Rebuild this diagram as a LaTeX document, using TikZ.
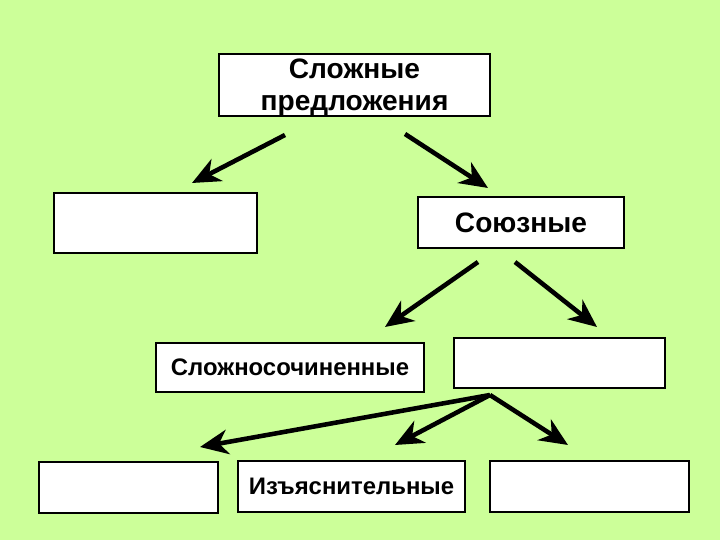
\documentclass[tikz,border=0pt]{standalone}
\usepackage{fontspec}
\setmainfont{Liberation Sans}
\usepackage{tikz}
\usetikzlibrary{arrows.meta}
\definecolor{bgGreen}{HTML}{CCFF99}

\begin{document}
\begin{tikzpicture}[x=0.02cm,y=-0.02cm]
\fill[bgGreen] (0,0) rectangle (720,540);
\useasboundingbox (0,0) rectangle (720,540);
\begin{scope}[every node/.style={rectangle,draw,line width=1.2pt,fill=white,inner sep=0pt,align=center,font=\fontsize{13.6}{17.5}\selectfont\bfseries}]
\node[minimum width=5.42cm,minimum height=1.24cm,text depth=0pt,font=\fontsize{16}{18}\selectfont\bfseries] (top) at (354.5,85) {Сложные\\предложения};
\node[minimum width=4.06cm,minimum height=1.20cm] (left) at (155.5,223) {};
\node[minimum width=4.12cm,minimum height=1.02cm,font=\fontsize{16}{18}\selectfont\bfseries] (soyuz) at (521,222.5) {Союзные};
\node[minimum width=5.36cm,minimum height=0.98cm] (soch) at (290,367.5) {Сложносочиненные};
\node[minimum width=4.22cm,minimum height=1.00cm] (podch) at (559.5,363) {};
\node[minimum width=3.58cm,minimum height=1.02cm] (bl) at (128.5,487.5) {};
\node[minimum width=4.54cm,minimum height=1.02cm] (izyas) at (351.5,486.5) {Изъяснительные};
\node[minimum width=3.98cm,minimum height=1.02cm] (br) at (589.5,486.5) {};
\end{scope}

\coordinate (t1) at (285,135);
\coordinate (t2) at (405,134);
\coordinate (s1) at (478,262);
\coordinate (s2) at (515,262);
\coordinate (p0) at (490,395);
\coordinate (a1) at (192,183);
\coordinate (a2) at (488,188);
\coordinate (a3) at (385,327);
\coordinate (a4) at (597,327);
\coordinate (a5) at (200,447);
\coordinate (a6) at (395,445);
\coordinate (a7) at (568,445);

\begin{scope}[line width=2.6pt, -{Stealth[length=16pt,width=14pt,inset=5pt]}]
\draw[black] (t1) -- (a1);
\draw[black] (t2) -- (a2);

\draw[black] (s1) -- (a3);
\draw[black] (s2) -- (a4);

\draw[black] (p0) -- (a5);
\draw[black] (p0) -- (a6);
\draw[black] (p0) -- (a7);
\end{scope}
\end{tikzpicture}
\end{document}
